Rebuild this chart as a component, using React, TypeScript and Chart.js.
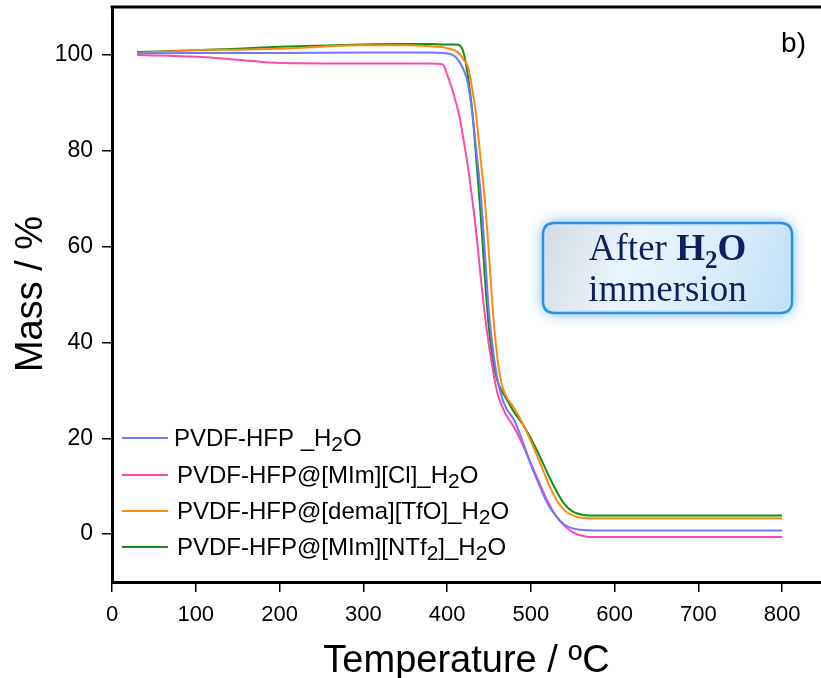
import React, { useEffect, useRef } from "react";
import { Chart, registerables } from "chart.js";

Chart.register(...registerables);

// ---- Data ----
const temps = [30, 100, 150, 200, 300, 350, 380, 395, 400, 405, 410, 415, 420, 425, 430, 435, 440, 445, 450, 455, 460, 465, 470, 480, 490, 500, 510, 520, 530, 540, 550, 560, 570, 580, 600, 700, 800];

const massPVDF = [100.3, 100.4, 100.4, 100.4, 100.5, 100.5, 100.5, 100.4, 100.3, 100.1, 99.6, 98.5, 96.8, 94.0, 88.0, 80.0, 71.5, 59.3, 46.5, 38.4, 32.5, 28.8, 26.5, 23.8, 19.5, 14.5, 10.3, 6.4, 3.8, 2.0, 1.2, 0.9, 0.8, 0.75, 0.75, 0.75, 0.75];
const massCl = [100.0, 99.6, 99.0, 98.3, 98.2, 98.2, 98.2, 98.0, 96.0, 93.5, 90.5, 87.0, 82.0, 76.7, 70.0, 62.8, 54.0, 46.0, 39.5, 34.0, 29.5, 27.0, 25.0, 22.3, 18.8, 14.8, 10.8, 6.9, 3.8, 1.8, 0.4, -0.3, -0.6, -0.6, -0.6, -0.6, -0.6];
const massTfO = [100.4, 101.0, 101.1, 101.3, 102.0, 102.0, 101.8, 101.6, 101.4, 101.2, 100.9, 100.2, 99.0, 97.5, 93.0, 87.0, 78.5, 70.0, 58.5, 46.0, 37.0, 31.5, 29.0, 26.3, 23.2, 19.4, 15.3, 11.0, 7.3, 5.0, 3.9, 3.4, 3.3, 3.3, 3.3, 3.3, 3.3];
const massNTf2 = [100.6, 101.0, 101.3, 101.7, 102.2, 102.3, 102.3, 102.2, 102.2, 102.2, 102.2, 102.0, 100.3, 95.5, 88.5, 78.0, 67.0, 54.0, 43.0, 36.0, 32.0, 30.0, 28.5, 25.5, 23.0, 20.0, 16.5, 12.7, 9.2, 6.3, 4.7, 4.1, 3.9, 3.9, 3.9, 3.9, 3.9];

const seriesNames = ["PVDF-HFP _H2O", "PVDF-HFP@[MIm][Cl]_H2O", "PVDF-HFP@[dema][TfO]_H2O", "PVDF-HFP@[MIm][NTf2]_H2O"];
const seriesColors = ["#6f78ff", "#ff4aa8", "#ff8a12", "#138f13"];
const seriesValues = [massPVDF, massCl, massTfO, massNTf2];

const xTicks = [0, 100, 200, 300, 400, 500, 600, 700, 800];
const yTicks = [0, 20, 40, 60, 80, 100];

const SANS = '"Liberation Sans", Arial, sans-serif';
const SERIF = '"Liberation Serif", "Times New Roman", serif';

// draw text where a "2" directly following H or f is drawn as subscript
function drawWithSub(ctx: CanvasRenderingContext2D, text: string, x: number, y: number, size: number, subSize: number, subDy: number) {
  let cx = x;
  for (let i = 0; i < text.length; i++) {
    const ch = text[i];
    const isSub = ch === "2" && i > 0 && (text[i - 1] === "H" || text[i - 1] === "f");
    ctx.font = `${isSub ? subSize : size}px ${SANS}`;
    ctx.fillText(ch, cx, y + (isSub ? subDy : 0));
    cx += ctx.measureText(ch).width;
  }
}

const decorPlugin = {
  id: "decor",
  afterDraw(chart: any) {
    const ctx: CanvasRenderingContext2D = chart.ctx;
    const a = chart.chartArea;
    ctx.save();
    // top frame line
    ctx.strokeStyle = "#000";
    ctx.lineWidth = 3;
    ctx.beginPath();
    ctx.moveTo(a.left - 1.5, a.top);
    ctx.lineTo(a.right, a.top);
    ctx.stroke();

    // axis titles
    ctx.fillStyle = "#000";
    ctx.textAlign = "center";
    ctx.textBaseline = "alphabetic";
    ctx.font = `38px ${SANS}`;
    ctx.fillText("Temperature / ºC", (a.left + a.right) / 2, 672);
    ctx.save();
    ctx.translate(42, 294);
    ctx.rotate(-Math.PI / 2);
    ctx.font = `38px ${SANS}`;
    ctx.fillText("Mass / %", 0, 0);
    ctx.restore();

    // panel label
    ctx.textAlign = "right";
    ctx.font = `28px ${SANS}`;
    ctx.fillText("b)", 806, 52);

    // legend
    const lx0 = 122, lx1 = 168;
    const lineYs = [438, 475, 511, 547];
    ctx.textAlign = "left";
    seriesNames.forEach((name, i) => {
      ctx.strokeStyle = seriesColors[i];
      ctx.lineWidth = 2;
      ctx.beginPath();
      ctx.moveTo(lx0, lineYs[i]);
      ctx.lineTo(lx1, lineYs[i]);
      ctx.stroke();
      ctx.fillStyle = "#000";
      drawWithSub(ctx, name, i === 0 ? 174 : 177, lineYs[i] + 8, 24, 21, 5);
    });

    // annotation box
    const bx = 543, by = 223, bw = 249, bh = 90, r = 12;
    const rr = (x: number, y: number, w: number, h: number, rad: number) => {
      ctx.beginPath();
      ctx.moveTo(x + rad, y);
      ctx.lineTo(x + w - rad, y);
      ctx.quadraticCurveTo(x + w, y, x + w, y + rad);
      ctx.lineTo(x + w, y + h - rad);
      ctx.quadraticCurveTo(x + w, y + h, x + w - rad, y + h);
      ctx.lineTo(x + rad, y + h);
      ctx.quadraticCurveTo(x, y + h, x, y + h - rad);
      ctx.lineTo(x, y + rad);
      ctx.quadraticCurveTo(x, y, x + rad, y);
      ctx.closePath();
    };
    ctx.save();
    ctx.shadowColor = "rgba(70,160,235,0.85)";
    ctx.shadowBlur = 14;
    rr(bx, by, bw, bh, r);
    ctx.fillStyle = "#cfe6f7";
    ctx.fill();
    ctx.restore();
    const g = ctx.createLinearGradient(bx, by, bx + bw, by + bh);
    g.addColorStop(0, "#d2dbe4");
    g.addColorStop(0.35, "#e9f4fc");
    g.addColorStop(0.7, "#d8ecfa");
    g.addColorStop(1, "#bfe0f7");
    rr(bx + 3, by + 3, bw - 6, bh - 6, r - 3);
    ctx.fillStyle = g;
    ctx.fill();
    ctx.strokeStyle = "#2f8fe0";
    ctx.lineWidth = 2.5;
    rr(bx, by, bw, bh, r);
    ctx.stroke();

    // box text
    ctx.fillStyle = "#0e1f5e";
    ctx.textAlign = "left";
    const cxm = bx + bw / 2;
    const parts: [string, string, number][] = [
      ["After ", `37px ${SERIF}`, 0],
      ["H", `bold 37px ${SERIF}`, 0],
      ["2", `bold 25px ${SERIF}`, 8],
      ["O", `bold 37px ${SERIF}`, 0],
    ];
    let total = 0;
    parts.forEach(([t, f]) => { ctx.font = f; total += ctx.measureText(t).width; });
    let px = cxm - total / 2;
    parts.forEach(([t, f, dy]) => {
      ctx.font = f;
      ctx.fillText(t, px, 260 + dy);
      px += ctx.measureText(t).width;
    });
    ctx.textAlign = "center";
    ctx.font = `37px ${SERIF}`;
    ctx.fillText("immersion", cxm, 301);
    ctx.restore();
  },
};

export default function App() {
  const ref = useRef<HTMLCanvasElement>(null);
  useEffect(() => {
    if (!ref.current) return;
    const chart = new Chart(ref.current, {
      type: "line",
      data: {
        datasets: seriesNames.map((name, i) => ({
          label: name,
          data: temps.map((t, j) => ({ x: t, y: seriesValues[i][j] })),
          borderColor: seriesColors[i],
          backgroundColor: seriesColors[i],
          borderWidth: 2,
          pointRadius: 0,
          cubicInterpolationMode: "monotone" as const,
          fill: false,
        })),
      },
      plugins: [decorPlugin],
      options: {
        animation: false,
        responsive: false,
        devicePixelRatio: 1,
        layout: { padding: { top: 7, left: 0, right: 0, bottom: 0 } },
        plugins: { legend: { display: false }, tooltip: { enabled: false } },
        scales: {
          x: {
            type: "linear",
            min: 0,
            max: 846.5,
            afterFit: (s: any) => { s.height = 96; s.paddingLeft = 0; s.paddingRight = 0; },
            afterBuildTicks: (s: any) => { s.ticks = xTicks.map((v) => ({ value: v })); },
            ticks: { color: "#000", font: { family: SANS, size: 22 }, padding: 10, maxRotation: 0, autoSkip: false },
            grid: { drawOnChartArea: false, drawTicks: true, tickLength: 10, color: "#000", lineWidth: 1.5 },
            border: { display: true, width: 3, color: "#000" },
          },
          y: {
            type: "linear",
            min: -10,
            max: 110,
            afterFit: (s: any) => { s.width = 112; s.paddingTop = 0; s.paddingBottom = 0; },
            afterBuildTicks: (s: any) => { s.ticks = yTicks.map((v) => ({ value: v })); },
            ticks: { color: "#000", font: { family: SANS, size: 23 }, padding: 9, autoSkip: false },
            grid: { drawOnChartArea: false, drawTicks: true, tickLength: 10, color: "#000", lineWidth: 1.5 },
            border: { display: true, width: 3, color: "#000" },
          },
        },
      },
    });
    return () => chart.destroy();
  }, []);
  return (
    <div style={{ position: "absolute", left: 0, top: 0, width: 821, height: 678, background: "#fff" }}>
      <canvas ref={ref} width={821} height={678} style={{ display: "block" }} />
    </div>
  );
}
